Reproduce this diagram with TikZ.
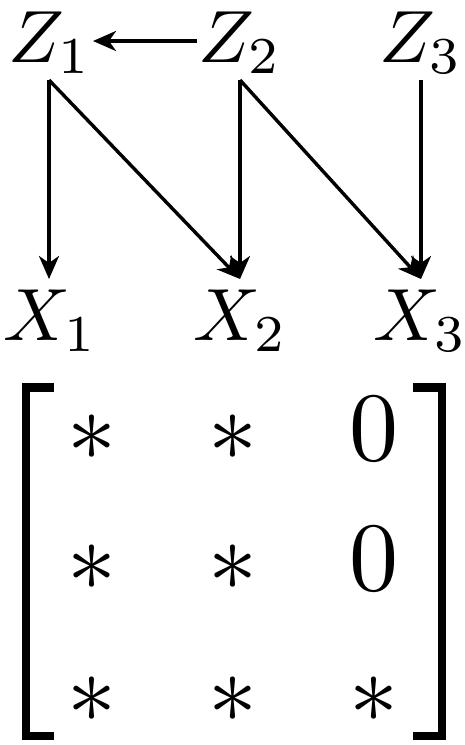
\documentclass[tikz,border=0pt]{standalone}
\usetikzlibrary{arrows.meta}
\DeclareFontShape{OT1}{cmr}{m}{n}{<-60>cmr7<60->cmr10}{}
\DeclareFontShape{OML}{cmm}{m}{it}{<-60>cmmi7<60->cmmi10}{}
\DeclareFontShape{OMS}{cmsy}{m}{n}{<-60>cmsy7<60->cmsy10}{}
\DeclareFontShape{OMX}{cmex}{m}{n}{<->cmex10}{}
\begin{document}
\begin{tikzpicture}[x=1pt,y=-1pt,
  lbl/.style={inner sep=0pt,anchor=base west,font=\fontsize{74}{80}\selectfont},
  ent/.style={inner sep=0pt,anchor=base,font=\fontsize{98}{100}\selectfont},
  arr/.style={line width=3.4pt,-{Stealth[length=23pt,width=20pt,inset=7pt]}},
  brk/.style={line width=8.3pt,line cap=butt,line join=miter}]
\useasboundingbox (0,0) rectangle (464,745);
% labels
\node[lbl] (z1) at (8,62) {$Z_1$};
\node[lbl] (z2) at (198,62) {$Z_2$};
\node[lbl] (z3) at (379,62) {$Z_3$};
\node[lbl] (x1) at (3,340) {$X_1$};
\node[lbl] (x2) at (193,340) {$X_2$};
\node[lbl] (x3) at (373,340) {$X_3$};
% connector ends
\coordinate (z1b) at (49,80);
\coordinate (z2b) at (240,80);
\coordinate (z3b) at (421,80);
\coordinate (x1t) at (49,279);
\coordinate (x2t) at (240,279);
\coordinate (x3t) at (421,279);
\coordinate (z2l) at (197,41);
\coordinate (z1r) at (93,41);
\draw[arr] (z2l) -- (z1r);
\draw[arr] (z1b) -- (x1t);
\draw[arr] (z1b) -- (x2t);
\draw[arr] (z2b) -- (x2t);
\draw[arr] (z2b) -- (x3t);
\draw[arr] (z3b) -- (x3t);
% matrix brackets
\draw[brk] (54.3,387.5) -- (25.9,387.5) -- (25.9,735.8) -- (54.3,735.8);
\draw[brk] (413.3,387.5) -- (441.8,387.5) -- (441.8,735.8) -- (413.3,735.8);
% entries
\node[ent] (m11) at (92,460) {$*$};
\node[ent] (m12) at (233,460) {$*$};
\node[ent] (m13) at (374,460) {$0$};
\node[ent] (m21) at (92,590) {$*$};
\node[ent] (m22) at (233,590) {$*$};
\node[ent] (m23) at (374,590) {$0$};
\node[ent] (m31) at (92,722) {$*$};
\node[ent] (m32) at (233,722) {$*$};
\node[ent] (m33) at (374,722) {$*$};
\end{tikzpicture}
\end{document}
